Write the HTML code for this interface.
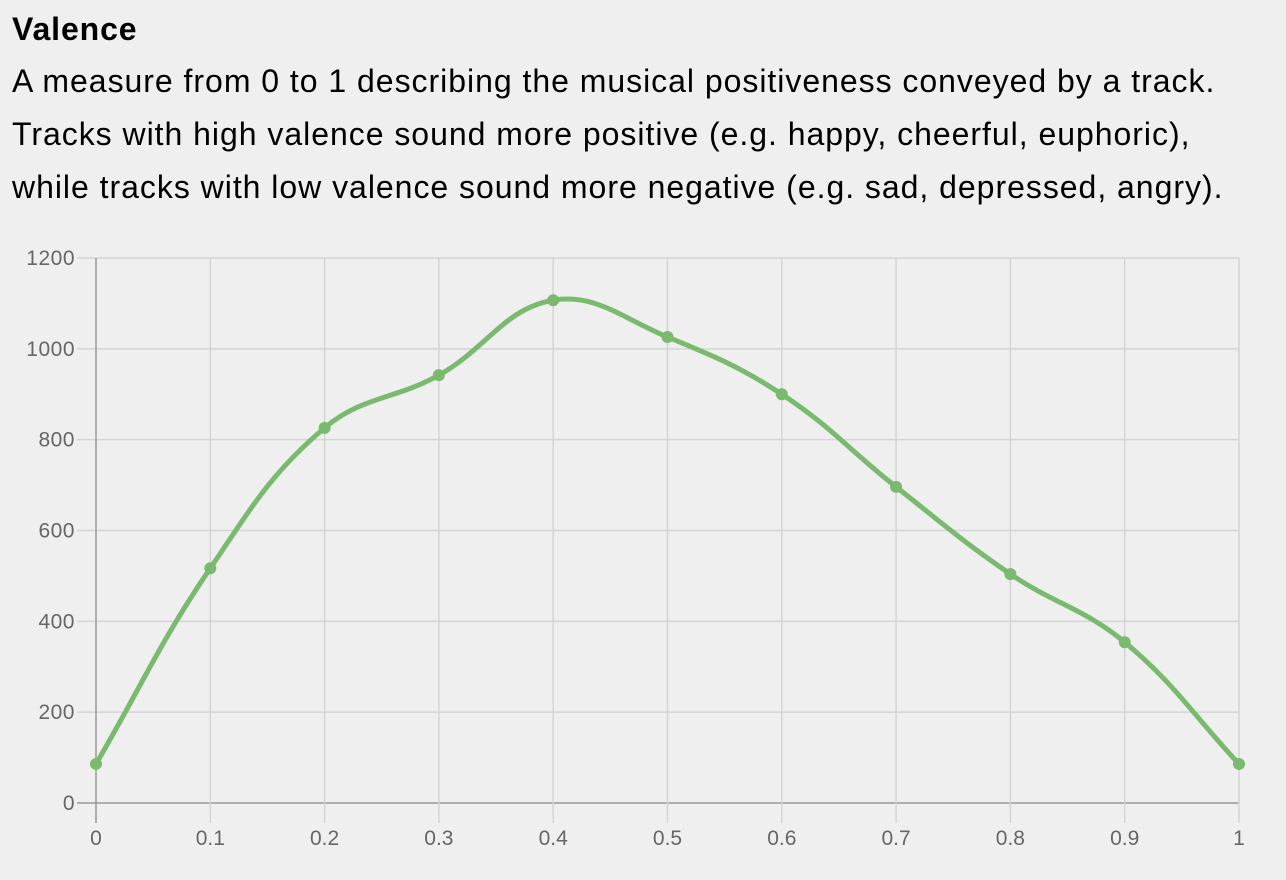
<!DOCTYPE html>
<html><head><meta charset="utf-8"><style>
body{margin:0;background:#efefef;width:1286px;height:880px;overflow:hidden;font-family:"Liberation Sans",Arial,sans-serif;color:#000}
h1{position:absolute;left:12px;top:10px;margin:0;font-size:32px;font-weight:bold;line-height:38px;letter-spacing:0.9px}
p{position:absolute;left:12px;top:55px;margin:0;font-size:32px;line-height:53px;width:1280px;white-space:nowrap;letter-spacing:0.97px}
svg{position:absolute;left:0;top:0}
</style></head><body>
<h1>Valence</h1>
<p>A measure from 0 to 1 describing the musical positiveness conveyed by a track.<br>Tracks with high valence sound more positive (e.g. happy, cheerful, euphoric),<br>while tracks with low valence sound more negative (e.g. sad, depressed, angry).</p>
<svg id="c" width="1286" height="880"></svg>
<script>
const xLabels=["0","0.1","0.2","0.3","0.4","0.5","0.6","0.7","0.8","0.9","1"];
const yTicks=[0,200,400,600,800,1000,1200];
const values=[86,517,826,942,1107,1026,900,696,504,354,86];
const X0=96,X1=1239,Y0=803,Y1=258;
const sx=i=>X0+(X1-X0)*i/(xLabels.length-1);
const sy=v=>Y0-(Y0-Y1)*v/1200;
const svg=document.getElementById('c');const NS='http://www.w3.org/2000/svg';
function mk(t,a,txt){const e=document.createElementNS(NS,t);for(const k in a)e.setAttribute(k,a[k]);if(txt!=null)e.textContent=txt;svg.appendChild(e);return e;}
yTicks.forEach(v=>{const y=sy(v);
const l=mk('line',{x1:77,x2:X1,y1:y,y2:y,stroke:v===0?'#999':'#d4d4d4','stroke-width':1.5});


const t=mk('text',{x:75,y:y+7,'text-anchor':'end','font-size':21,fill:'#666','letter-spacing':0.5},String(v));

});
xLabels.forEach((s,i)=>{const x=sx(i);
const l=mk('line',{x1:x,x2:x,y1:Y1,y2:823,stroke:i===0?'#999':'#d4d4d4','stroke-width':1.5});


const t=mk('text',{x:x,y:845,'text-anchor':'middle','font-size':21,fill:'#666'},s);

});
const pts=values.map((v,i)=>[sx(i),sy(v)]);
const T=0.4;
function cps(p0,p1,p2){const d01=Math.hypot(p1[0]-p0[0],p1[1]-p0[1]),d12=Math.hypot(p2[0]-p1[0],p2[1]-p1[1]);
let fa=d01/(d01+d12),fb=d12/(d01+d12);fa=T*fa;fb=T*fb;
return [[p1[0]-fa*(p2[0]-p0[0]),p1[1]-fa*(p2[1]-p0[1])],[p1[0]+fb*(p2[0]-p0[0]),p1[1]+fb*(p2[1]-p0[1])]];}
const cp=pts.map((p,i)=>cps(pts[Math.max(0,i-1)],p,pts[Math.min(pts.length-1,i+1)]));
let d='M'+pts[0].join(',');
for(let i=1;i<pts.length;i++){d+=' C'+cp[i-1][1].join(',')+' '+cp[i][0].join(',')+' '+pts[i].join(',');}
const path=mk('path',{d:d,fill:'none',stroke:'#7aba6f','stroke-width':5});


pts.forEach(p=>{const c=mk('circle',{cx:p[0],cy:p[1],r:6,fill:'#7aba6f'});

});
</script>
</body></html>
